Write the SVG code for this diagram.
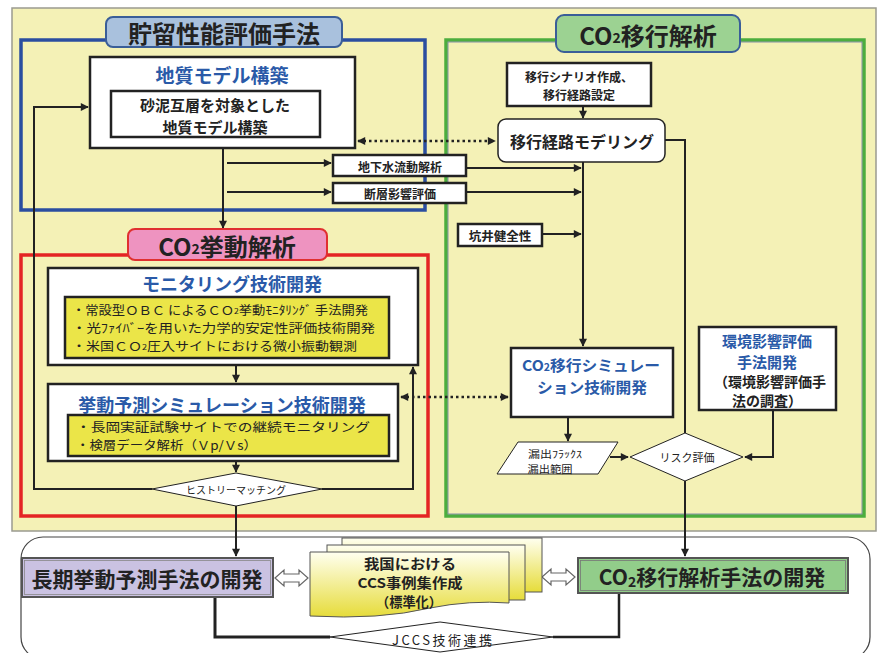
<svg xmlns="http://www.w3.org/2000/svg" width="879" height="653" viewBox="0 0 879 653">
<defs>
<style>
text{font-family:"Noto Sans CJK JP","Noto Sans",sans-serif;fill:#222;text-anchor:middle;dominant-baseline:central}
.b{font-weight:bold}
.blue{fill:#2a5aa8;font-weight:bold}
.box{fill:#fff;stroke:#222;stroke-width:2.5}
.yel{fill:#ebe548;stroke:#222;stroke-width:2.5}
.ln{fill:none;stroke:#222;stroke-width:2}
.dot{fill:none;stroke:#222;stroke-width:2.5;stroke-dasharray:2.5 3}
.thin{fill:#fff;stroke:#222;stroke-width:1}
</style>
<marker id="ah" viewBox="0 0 10 10" refX="9" refY="5" markerWidth="9" markerHeight="8" markerUnits="userSpaceOnUse" orient="auto-start-reverse"><path d="M0,0 L10,5 L0,10 Z" fill="#222"/></marker>
<linearGradient id="doc" x1="0" y1="0" x2="0" y2="1"><stop offset="0" stop-color="#fffff0"/><stop offset="1" stop-color="#e6dc3a"/></linearGradient>
</defs>
<rect width="879" height="653" fill="#fff"/>
<g id="panel"><rect x="12" y="8" width="864" height="523" fill="#f4f1b6" stroke="#9a9a90" stroke-width="1.5"/></g>
<g id="bottom-frame"><rect x="21" y="537" width="849" height="122" rx="22" fill="#fff" stroke="#444" stroke-width="1.2"/></g>
<g id="frame-blue"><rect x="21" y="40" width="404" height="170" fill="none" stroke="#2a4ea0" stroke-width="3.5"/></g>
<g id="frame-green"><rect x="446" y="40" width="418" height="476" fill="none" stroke="#4cad3e" stroke-width="3.5"/><rect x="448" y="42" width="414" height="472" fill="none" stroke="#6a7aa0" stroke-width="0.8"/></g>
<g id="frame-red"><rect x="21" y="255" width="407" height="261" fill="none" stroke="#e42424" stroke-width="3.5"/></g>
<g id="connectors">
<polyline class="ln" points="152,489 34,489 34,107 88,107" marker-end="url(#ah)"/>
<polyline class="ln" points="322,489 413,489 413,367" marker-end="url(#ah)"/>
<line class="ln" x1="223" y1="142" x2="223" y2="228" marker-end="url(#ah)"/>
<line class="ln" x1="227" y1="163" x2="331" y2="163" marker-end="url(#ah)"/>
<line class="ln" x1="227" y1="192" x2="331" y2="192" marker-end="url(#ah)"/>
<line class="ln" x1="466" y1="168" x2="581" y2="168" marker-end="url(#ah)"/>
<line class="ln" x1="466" y1="192" x2="581" y2="192" marker-end="url(#ah)"/>
<line class="ln" x1="542" y1="234" x2="581" y2="234" marker-end="url(#ah)"/>
<line class="ln" x1="583" y1="106" x2="583" y2="118" marker-end="url(#ah)"/>
<line class="ln" x1="583" y1="162" x2="583" y2="346" marker-end="url(#ah)"/>
<line class="dot" x1="358" y1="141" x2="495" y2="141" marker-start="url(#ah)" marker-end="url(#ah)"/>
<polyline class="ln" points="665,140 685,140 685,433"/>
<line class="ln" x1="236" y1="365" x2="236" y2="382" marker-end="url(#ah)"/>
<line class="dot" x1="401" y1="397" x2="508" y2="397" marker-start="url(#ah)" marker-end="url(#ah)"/>
<line class="ln" x1="236" y1="461" x2="236" y2="472" marker-end="url(#ah)"/>
<line class="ln" x1="236" y1="506" x2="236" y2="556" marker-end="url(#ah)"/>
<line class="ln" x1="568" y1="417" x2="568" y2="441" marker-end="url(#ah)"/>
<line class="ln" x1="610" y1="457" x2="628" y2="457" marker-end="url(#ah)"/>
<polyline class="ln" points="773,410 773,457 745,457" marker-end="url(#ah)"/>
<line class="ln" x1="685" y1="481" x2="685" y2="556" marker-end="url(#ah)"/>
<polyline fill="none" stroke="#222" stroke-width="3" points="215,597 215,637 330,637"/>
<polyline fill="none" stroke="#222" stroke-width="2.5" points="553,637 619,637 619,593"/>
<path d="M275,578 l9,-8 v4 h15 v-4 l9,8 l-9,8 v-4 h-15 v4 Z" fill="#fff" stroke="#666" stroke-width="1.2"/>
<path d="M542,577 l9,-8 v4 h15 v-4 l9,8 l-9,8 v-4 h-15 v4 Z" fill="#fff" stroke="#666" stroke-width="1.2"/>
</g>
<g id="title-storage"><rect x="106" y="17" width="236" height="30" rx="7" fill="#a9c1dd" stroke="#3a5e98" stroke-width="2"/><text x="224" y="32" class="b" font-size="24">貯留性能評価手法</text></g>
<g id="title-migration"><rect x="556" y="15" width="184" height="37" rx="8" fill="#9cd292" stroke="#3a5e98" stroke-width="2"/><text x="648" y="34" class="b" font-size="24">CO<tspan font-size="14" dy="3">2</tspan><tspan dy="-3">移行解析</tspan></text></g>
<g id="geo-model"><rect class="box" x="90" y="57" width="265" height="91"/><text x="222" y="74" class="blue" font-size="19">地質モデル構築</text>
<rect class="box" x="111" y="91" width="209" height="46"/><text x="215" y="104" class="b" font-size="15">砂泥互層を対象とした</text><text x="215" y="126" class="b" font-size="15">地質モデル構築</text></g>
<g id="groundwater"><rect class="box" x="333" y="155" width="133" height="21"/><text x="400" y="166" class="b" font-size="12">地下水流動解析</text></g>
<g id="fault"><rect class="box" x="333" y="183" width="133" height="20"/><text x="400" y="193" class="b" font-size="12">断層影響評価</text></g>
<g id="scenario"><rect class="box" x="507" y="63" width="144" height="43" stroke-width="1.5"/><text x="579" y="76" class="b" font-size="12">移行シナリオ作成、</text><text x="579" y="94" class="b" font-size="12">移行経路設定</text></g>
<g id="path-model"><rect x="498" y="119" width="167" height="43" rx="8" fill="#fff" stroke="#222" stroke-width="1.5"/><text x="582" y="141" class="b" font-size="16">移行経路モデリング</text></g>
<g id="well"><rect class="box" x="458" y="224" width="84" height="22"/><text x="500" y="235" class="b" font-size="12.5">坑井健全性</text></g>
<g id="title-behavior"><rect x="128" y="229" width="199" height="31" rx="7" fill="#ee93c0" stroke="#e03030" stroke-width="2"/><text x="227" y="245" class="b" font-size="24">CO<tspan font-size="14" dy="3">2</tspan><tspan dy="-3">挙動解析</tspan></text></g>
<g id="monitoring"><rect class="box" x="48" y="268" width="370" height="97"/><text x="232" y="283" class="blue" font-size="18">モニタリング技術開発</text>
<rect class="yel" x="65" y="297" width="324" height="61"/>
<text x="72" y="310" font-size="12.3" style="text-anchor:start" textLength="296" lengthAdjust="spacingAndGlyphs">・常設型ＯＢＣ によるＣＯ<tspan font-size="8">2</tspan>挙動ﾓﾆﾀﾘﾝｸﾞ 手法開発</text>
<text x="72" y="328" font-size="12.3" style="text-anchor:start" textLength="303" lengthAdjust="spacingAndGlyphs">・光ﾌｧｲﾊﾞｰを用いた力学的安定性評価技術開発</text>
<text x="72" y="346" font-size="12.3" style="text-anchor:start" textLength="285" lengthAdjust="spacingAndGlyphs">・米国ＣＯ<tspan font-size="8">2</tspan>圧入サイトにおける微小振動観測</text></g>
<g id="prediction"><rect class="box" x="48" y="384" width="350" height="77"/><text x="222" y="404" class="blue" font-size="18">挙動予測シミュレーション技術開発</text>
<rect class="yel" x="68" y="415" width="321" height="41"/>
<text x="76" y="427" font-size="12.3" style="text-anchor:start" textLength="294" lengthAdjust="spacingAndGlyphs">・長岡実証試験サイトでの継続モニタリング</text>
<text x="76" y="445" font-size="12.3" style="text-anchor:start" textLength="181" lengthAdjust="spacingAndGlyphs">・検層データ解析（Ｖp/Ｖs）</text></g>
<g id="history-matching"><polygon class="thin" points="152,489 236,473 322,489 236,506"/><text x="236" y="489" font-size="10">ヒストリーマッチング</text></g>
<g id="co2-sim"><rect class="box" x="511" y="348" width="162" height="69"/><text x="591" y="364" class="blue" font-size="15" textLength="138" lengthAdjust="spacingAndGlyphs">CO<tspan font-size="10" dy="2">2</tspan><tspan dy="-2">移行シミュレー</tspan></text><text x="592" y="386" class="blue" font-size="15" textLength="110" lengthAdjust="spacingAndGlyphs">ション技術開発</text></g>
<g id="env"><rect class="box" x="699" y="327" width="137" height="83"/><text x="767" y="340" class="blue" font-size="15">環境影響評価</text><text x="767" y="361" class="blue" font-size="15">手法開発</text><text x="770" y="381" class="b" font-size="14">（環境影響評価手</text><text x="767" y="400" class="b" font-size="14">法の調査）</text></g>
<g id="leak"><polygon class="thin" points="518,442 618,442 598,474 497,474"/><text x="555" y="453.5" font-size="10" textLength="54" lengthAdjust="spacingAndGlyphs">漏出ﾌﾗｯｸｽ</text><text x="550" y="468" font-size="10" textLength="45" lengthAdjust="spacingAndGlyphs">漏出範囲</text></g>
<g id="risk"><polygon class="thin" points="630,457 685,433 743,457 685,481"/><text x="687" y="457" font-size="11">リスク評価</text></g>
<g id="long-term"><rect x="22" y="558" width="251" height="39" fill="#cac2e2" stroke="#555" stroke-width="2"/><rect x="24.5" y="560.5" width="246" height="34" fill="none" stroke="#888" stroke-width="0.8"/><text x="147" y="578" class="b" font-size="21">長期挙動予測手法の開発</text></g>
<g id="migration-method"><rect x="578" y="558" width="270" height="35" fill="#92cd8a" stroke="#555" stroke-width="2"/><rect x="580.5" y="560.5" width="265" height="30" fill="none" stroke="#777" stroke-width="0.8"/><text x="712" y="576" class="b" font-size="21">CO<tspan font-size="14" dy="5">2</tspan><tspan dy="-5">移行解析手法の開発</tspan></text></g>
<g id="casebook"><rect x="342" y="538" width="200" height="54" fill="url(#doc)" stroke="#555" stroke-width="1"/><rect x="327" y="545" width="198" height="55" fill="url(#doc)" stroke="#555" stroke-width="1"/>
<path d="M310,552 H509 V603 Q470,600 430,608 Q380,620 310,616 Z" fill="url(#doc)" stroke="#555" stroke-width="1"/>
<text x="410" y="563" class="b" font-size="13.5" textLength="92" lengthAdjust="spacingAndGlyphs">我国における</text><text x="410" y="582" class="b" font-size="13.5" textLength="105" lengthAdjust="spacingAndGlyphs">CCS事例集作成</text><text x="409" y="601" class="b" font-size="13.5" textLength="66" lengthAdjust="spacingAndGlyphs">（標準化）</text></g>
<g id="jccs"><polygon class="thin" points="330,637 440,622 553,637 440,652"/><text x="442" y="639" font-size="13" textLength="100" lengthAdjust="spacing">JCCS技術連携</text></g>
</svg>
